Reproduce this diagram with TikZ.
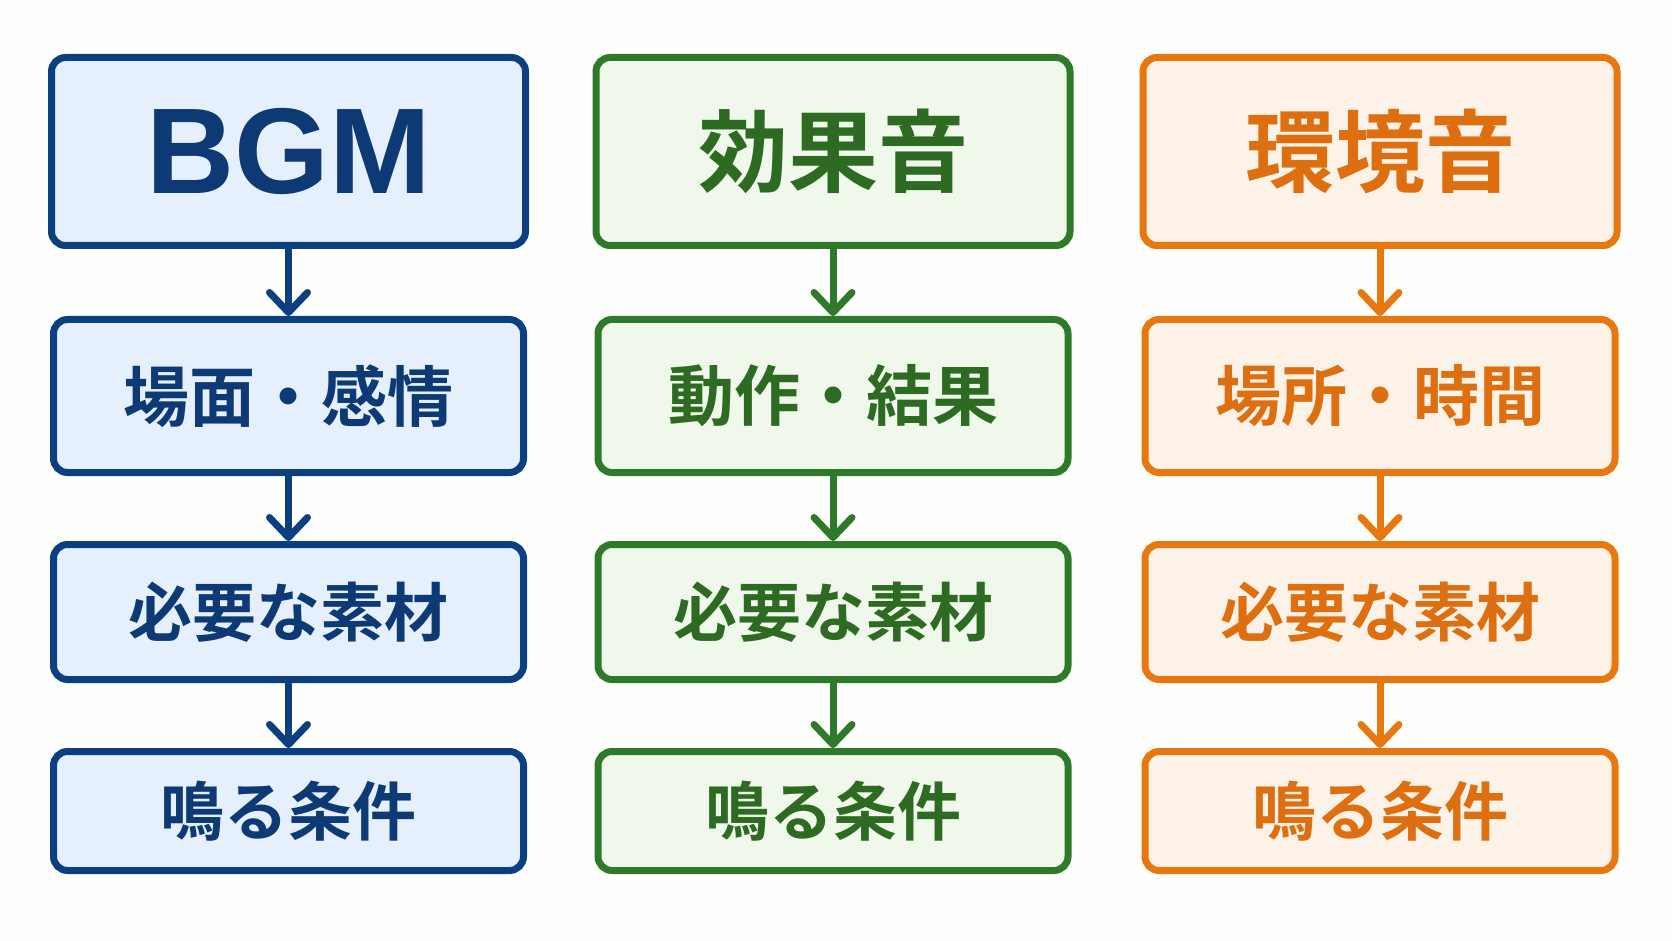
\documentclass[tikz,border=0pt]{standalone}
\usepackage{fontspec}
\usepackage{tikz}
\usetikzlibrary{arrows.meta}
\setmainfont{Liberation Sans}
\newfontfamily\jpfont{Noto Sans CJK JP}[BoldFont={Noto Sans CJK JP Bold}]

\definecolor{bgmline}{HTML}{0B3F80}
\definecolor{bgmfill}{HTML}{E6F0FC}
\definecolor{bgmtext}{HTML}{0D3A75}
\definecolor{seline}{HTML}{2F7A2A}
\definecolor{sefill}{HTML}{EFF8EA}
\definecolor{setext}{HTML}{2E6B22}
\definecolor{envline}{HTML}{E8770F}
\definecolor{envfill}{HTML}{FDF2E8}
\definecolor{envtext}{HTML}{DE6F10}
\definecolor{paper}{HTML}{FEFEFC}

\begin{document}
\begin{tikzpicture}[x=0.5pt,y=-0.5pt,
	box/.style={rectangle,rounded corners=7pt,line width=3.5pt,inner sep=0pt},
	headbox/.style={box,minimum width=237pt,minimum height=94pt},
	rowtwo/.style={box,minimum width=235pt,minimum height=76.5pt},
	rowthree/.style={box,minimum width=235pt,minimum height=67.5pt},
	rowfour/.style={box,minimum width=235pt,minimum height=59.5pt},
	jp/.style={font=\jpfont\bfseries\fontsize{#1}{#1}\selectfont},
	arr/.style={line width=3.5pt,-{Straight Barb[length=10pt,width=19pt,round]}},
	bgm/.style={draw=bgmline,fill=bgmfill,text=bgmtext},
	se/.style={draw=seline,fill=sefill,text=setext},
	env/.style={draw=envline,fill=envfill,text=envtext}]

	\fill[paper] (0,0) rectangle (1672,941);
	\useasboundingbox (0,0) rectangle (1672,941);

	% BGM
	\node[headbox,bgm,font=\bfseries\fontsize{61}{61}\selectfont] (bgm1) at (288.5,151.5) {BGM};
	\node[rowtwo,bgm,jp=33] (bgm2) at (288.5,396) {場面・感情};
	\node[rowthree,bgm,jp=32] (bgm3) at (288.5,612) {必要な素材};
	\node[rowfour,bgm,jp=32] (bgm4) at (288.5,811) {鳴る条件};

	\draw[arr,bgmline] (bgm1) -- (bgm2);
	\draw[arr,bgmline] (bgm2) -- (bgm3);
	\draw[arr,bgmline] (bgm3) -- (bgm4);

	% effects
	\node[headbox,se,jp=45] (se1) at (833,151.5) {効果音};
	\node[rowtwo,se,jp=33] (se2) at (833,396) {動作・結果};
	\node[rowthree,se,jp=32] (se3) at (833,612) {必要な素材};
	\node[rowfour,se,jp=32] (se4) at (833,811) {鳴る条件};

	\draw[arr,seline] (se1) -- (se2);
	\draw[arr,seline] (se2) -- (se3);
	\draw[arr,seline] (se3) -- (se4);

	% ambience
	\node[headbox,env,jp=45] (env1) at (1380,151.5) {環境音};
	\node[rowtwo,env,jp=33] (env2) at (1380,396) {場所・時間};
	\node[rowthree,env,jp=32] (env3) at (1380,612) {必要な素材};
	\node[rowfour,env,jp=32] (env4) at (1380,811) {鳴る条件};

	\draw[arr,envline] (env1) -- (env2);
	\draw[arr,envline] (env2) -- (env3);
	\draw[arr,envline] (env3) -- (env4);

\end{tikzpicture}
\end{document}
